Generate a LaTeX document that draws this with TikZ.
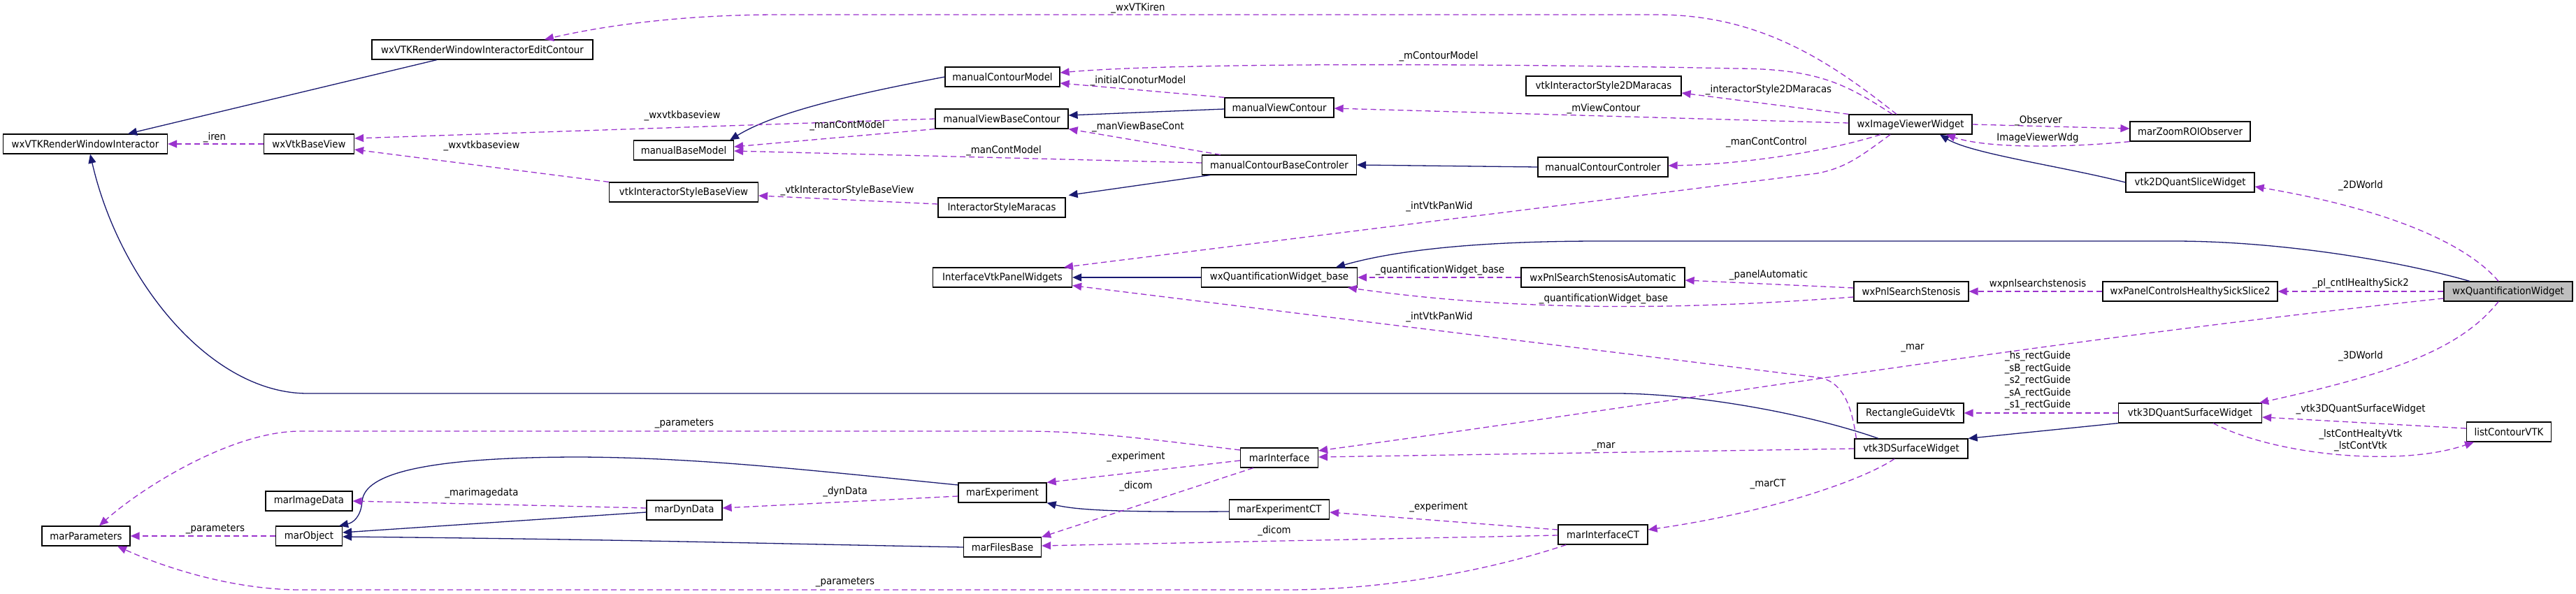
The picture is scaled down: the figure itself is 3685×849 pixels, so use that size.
\documentclass[tikz,border=0pt]{standalone}
\usepackage{fontspec}
\setmainfont{DejaVu Sans}[FakeStretch=0.92]
\usetikzlibrary{arrows.meta}
\definecolor{inhc}{HTML}{191970}
\definecolor{depc}{HTML}{9A32CD}
\definecolor{graybox}{HTML}{BFBFBF}
\begin{document}
\begin{tikzpicture}[x=1pt,y=-1pt,
  every node/.style={font=\fontsize{14.5}{17.5}\selectfont},
  cls/.style={draw=black, line width=1.2pt, fill=white, minimum height=28pt, inner xsep=2pt, inner ysep=0pt},
  lbl/.style={inner sep=0pt, align=center},
  inh/.style={draw=inhc, line width=1.3pt, -{Triangle[length=13pt,width=11pt]}},
  dep/.style={draw=depc, line width=1.3pt, dash pattern=on 8pt off 5pt, -{Triangle[length=13pt,width=11pt]}}]
\fill[white] (0,0) rectangle (3685,849);
\useasboundingbox (0,0) rectangle (3685,849);
% classes
\node[cls, minimum width=316pt] (ewc) at (690,71) {wxVTKRenderWindowInteractorEditContour};
\node[cls, minimum width=235pt] (rwi) at (122,206) {wxVTKRenderWindowInteractor};
\node[cls, minimum width=129pt] (bv) at (442,206) {wxVtkBaseView};
\node[cls, minimum width=164pt] (mcm) at (1434,110) {manualContourModel};
\node[cls, minimum width=190pt] (mvbc) at (1433,170) {manualViewBaseContour};
\node[cls, minimum width=143pt] (mbm) at (978,215) {manualBaseModel};
\node[cls, minimum width=213pt] (isbv) at (978,275) {vtkInteractorStyleBaseView};
\node[cls, minimum width=182pt] (ism) at (1433,297) {InteractorStyleMaracas};
\node[cls, minimum width=156pt] (mvc) at (1830,154) {manualViewContour};
\node[cls, minimum width=221pt] (mcbc) at (1830,236) {manualContourBaseControler};
\node[cls, minimum width=222pt] (is2d) at (2294,123) {vtkInteractorStyle2DMaracas};
\node[cls, minimum width=176pt] (ivw) at (2733,178) {wxImageViewerWidget};
\node[cls, minimum width=186pt] (mcc) at (2293,239) {manualContourControler};
\node[cls, minimum width=172pt] (zoom) at (3133,188) {marZoomROIObserver};
\node[cls, minimum width=184pt] (q2d) at (3133,261) {vtk2DQuantSliceWidget};
\node[cls, minimum width=199pt] (ivpw) at (1434,397) {InterfaceVtkPanelWidgets};
\node[cls, minimum width=223pt] (qwb) at (1830,397) {wxQuantificationWidget\_base};
\node[cls, minimum width=234pt] (pssa) at (2293,397) {wxPnlSearchStenosisAutomatic};
\node[cls, minimum width=164pt] (pss) at (2734,417) {wxPnlSearchStenosis};
\node[cls, minimum width=250pt] (pchs) at (3133,417) {wxPanelControlsHealthySickSlice2};
\node[cls, fill=graybox, minimum width=184pt] (qw) at (3588,417) {wxQuantificationWidget};
\node[cls, minimum width=152pt] (rgv) at (2733,591) {RectangleGuideVtk};
\node[cls, minimum width=205pt] (q3d) at (3133,591) {vtk3DQuantSurfaceWidget};
\node[cls, minimum width=121pt] (lcv) at (3589,618) {listContourVTK};
\node[cls, minimum width=162pt] (s3d) at (2734,642) {vtk3DSurfaceWidget};
\node[cls, minimum width=111pt] (mi) at (1830,655) {marInterface};
\node[cls, minimum width=124pt] (mid) at (442,717) {marImageData};
\node[cls, minimum width=126pt] (mp) at (123,767) {marParameters};
\node[cls, minimum width=95pt] (mo) at (442,767) {marObject};
\node[cls, minimum width=108pt] (mdd) at (979,730) {marDynData};
\node[cls, minimum width=126pt] (me) at (1434,705) {marExperiment};
\node[cls, minimum width=143pt] (mect) at (1830,729) {marExperimentCT};
\node[cls, minimum width=111pt] (mfb) at (1434,783) {marFilesBase};
\node[cls, minimum width=128pt] (mict) at (2293,765) {marInterfaceCT};
% inheritance
\draw[inh] ([xshift=-65pt]ewc.south) -- ([xshift=61pt]rwi.north);
\draw[inh] ([xshift=-47pt]s3d.north) .. controls (2580,590) and (2420,563) .. (2312,563) -- (440,563) .. controls (300,563) and (170,400) .. ([xshift=7pt]rwi.south);
\draw[inh] (mcm.west) .. controls (1220,135) and (1110,160) .. ([xshift=-6pt]mbm.north east);
\draw[inh] ([yshift=-2pt]mvc.west) -- ([yshift=5pt]mvbc.east);
\draw[inh] ([xshift=12pt]mcbc.south west) -- ([xshift=4pt,yshift=3pt]ism.north east);
\draw[inh] (mcc.west) -- (mcbc.east);
\draw[inh] (q2d.west) .. controls (2950,238) and (2820,220) .. ([xshift=42pt]ivw.south);
\draw[inh] ([xshift=-55pt]qw.north) .. controls (3420,370) and (3250,345) .. (3110,345) -- (2290,345) .. controls (2100,345) and (1990,360) .. ([xshift=81pt]qwb.north);
\draw[inh] (qwb.west) -- (ivpw.east);
\draw[inh] (q3d.south west) -- (s3d.north east);
\draw[inh] ([yshift=-3pt]mect.west) .. controls (1600,733) and (1540,730) .. (me.south east);
\draw[inh] ([yshift=11pt]me.west) .. controls (1150,672) and (1000,655) .. (830,654) .. controls (560,654) and (520,690) .. (518,718) .. controls (516,740) and (505,748) .. ([xshift=-5pt]mo.north east);
\draw[inh] ([yshift=-3pt]mdd.west) -- ([yshift=5pt]mo.east);
\draw[inh] (mfb.west) .. controls (1100,778) and (900,772) .. ([yshift=-1pt]mo.east);
% dependencies
\draw[dep] ([xshift=-20pt]ivw.north) .. controls (2620,90) and (2520,21) .. (2370,21) -- (1115,21) .. controls (960,21) and (850,40) .. ([xshift=89pt]ewc.north);
\draw[dep] ([xshift=-26pt]ivw.north) .. controls (2640,120) and (2600,98) .. (2480,98) .. controls (2200,92) and (1700,88) .. ([yshift=6pt]mcm.east);
\draw[dep] (mvc.north west) -- ([yshift=-9pt]mcm.east);
\draw[dep] (ivw.north west) -- ([yshift=-10pt]is2d.east);
\draw[dep] ([yshift=2pt]ivw.west) -- ([yshift=-1pt]mvc.east);
\draw[dep] ([xshift=-43pt]ivw.south) .. controls (2620,215) and (2500,235) .. ([yshift=2pt]mcc.east);
\draw[dep] ([xshift=-29pt]ivw.south) .. controls (2660,225) and (2640,240) .. (2600,248) -- ([xshift=88pt]ivpw.north);
\draw[dep] (ivw.east) -- ([yshift=4pt]zoom.west);
\draw[dep] (zoom.south west) .. controls (2950,212) and (2840,212) .. ([xshift=51pt]ivw.south);
\draw[dep] ([xshift=-14pt]qw.north) .. controls (3530,350) and (3420,300) .. ([yshift=-6pt]q2d.east);
\draw[dep] (qw.west) -- (pchs.east);
\draw[dep] (pchs.west) -- (pss.east);
\draw[dep] ([yshift=5pt]pss.west) -- ([yshift=-4pt]pssa.east);
\draw[dep] ([yshift=-8pt]pss.west) .. controls (2450,440) and (2200,450) .. ([xshift=98pt]qwb.south);
\draw[dep] (pssa.west) -- (qwb.east);
\draw[dep] ([xshift=3pt]s3d.north west) .. controls (2650,590) and (2640,545) .. (2600,540) -- ([yshift=3pt]ivpw.south east);
\draw[dep] ([yshift=-10pt]qw.west) .. controls (2900,490) and (2400,575) .. ([yshift=10pt]mi.east);
\draw[dep] (s3d.west) -- ([yshift=1pt]mi.east);
\draw[dep] ([xshift=-24pt]s3d.south) .. controls (2660,690) and (2520,735) .. ([yshift=7pt]mict.east);
\draw[dep] (q3d.west) -- (rgv.east);
\draw[dep] ([xshift=-14pt]qw.south) .. controls (3520,500) and (3420,535) .. ([xshift=-4pt]q3d.north east);
\draw[dep] ([yshift=5pt]lcv.west) -- ([yshift=-6pt]q3d.east);
\draw[dep] ([xshift=33pt]q3d.south) .. controls (3250,650) and (3430,670) .. ([xshift=-50pt]lcv.south);
\draw[dep] ([yshift=-4pt]mi.west) -- (me.north east);
\draw[dep] ([xshift=19pt]mi.south west) -- (mfb.north east);
\draw[dep] ([yshift=11pt]mi.west) .. controls (1640,628) and (1560,617) .. (1460,617) -- (430,617) .. controls (330,617) and (200,700) .. ([xshift=19pt]mp.north);
\draw[dep] ([yshift=-5pt]me.west) -- ([yshift=3pt]mdd.east);
\draw[dep] ([yshift=3pt]mdd.west) -- (mid.east);
\draw[dep] (mo.west) -- (mp.east);
\draw[dep] ([yshift=7pt]mict.west) -- ([yshift=-4pt]mect.east);
\draw[dep] ([yshift=-1pt]mict.west) -- ([yshift=2pt]mfb.east);
\draw[dep] ([xshift=12pt]mict.south west) .. controls (2150,810) and (2000,844) .. (1840,844) -- (430,844) .. controls (330,844) and (230,810) .. ([xshift=45pt]mp.south);
\draw[dep] (mvbc.west) -- ([yshift=8pt]bv.east);
\draw[dep] (isbv.north west) -- ([yshift=-8pt]bv.east);
\draw[dep] (bv.west) -- (rwi.east);
\draw[dep] (mvbc.south west) -- ([yshift=5pt]mbm.east);
\draw[dep] ([yshift=3pt]mcbc.west) -- ([yshift=-1pt]mbm.east);
\draw[dep] ([xshift=27pt]mcbc.north west) -- (mvbc.south east);
\draw[dep] ([yshift=5pt]ism.west) -- ([yshift=-5pt]isbv.east);
% labels
\node[lbl] (l1) at (1628,12) {\_wxVTKiren};
\node[lbl] (l2) at (2058,81) {\_mContourModel};
\node[lbl] (l3) at (1628,116) {\_initialConoturModel};
\node[lbl] (l4) at (2530,129) {\_interactorStyle2DMaracas};
\node[lbl] (l5) at (2294,156) {\_mViewContour};
\node[lbl] (l6) at (2527,204) {\_manContControl};
\node[lbl] (l7) at (2059,296) {\_intVtkPanWid};
\node[lbl] (l8) at (2916,173) {\_Observer};
\node[lbl] (l9) at (2915,197) {ImageViewerWdg};
\node[lbl] (l10) at (3377,266) {\_2DWorld};
\node[lbl] (l11) at (3377,406) {\_pl\_cntlHealthySick2};
\node[lbl] (l12) at (2915,406) {wxpnlsearchstenosis};
\node[lbl] (l13) at (2530,394) {\_panelAutomatic};
\node[lbl] (l14) at (2294,428) {\_quantificationWidget\_base};
\node[lbl] (l15) at (2060,387) {\_quantificationWidget\_base};
\node[lbl] (l16) at (2059,454) {\_intVtkPanWid};
\node[lbl] (l17) at (2736,498) {\_mar};
\node[lbl] (l18) at (2294,639) {\_mar};
\node[lbl] (l19) at (2529,693) {\_marCT};
\node[lbl] (l20) at (2915,545) {\_hs\_rectGuide\\\_sB\_rectGuide\\\_s2\_rectGuide\\\_sA\_rectGuide\\\_s1\_rectGuide};
\node[lbl] (l21) at (3377,510) {\_3DWorld};
\node[lbl] (l22) at (3377,586) {\_vtk3DQuantSurfaceWidget};
\node[lbl] (l23) at (3377,630) {\_lstContHealtyVtk\\\_lstContVtk};
\node[lbl] (l24) at (1625,654) {\_experiment};
\node[lbl] (l25) at (1625,696) {\_dicom};
\node[lbl] (l26) at (979,606) {\_parameters};
\node[lbl] (l27) at (1209,704) {\_dynData};
\node[lbl] (l28) at (689,706) {\_marimagedata};
\node[lbl] (l29) at (308,757) {\_parameters};
\node[lbl] (l30) at (2058,726) {\_experiment};
\node[lbl] (l31) at (1823,760) {\_dicom};
\node[lbl] (l32) at (1209,833) {\_parameters};
\node[lbl] (l33) at (976,166) {\_wxvtkbaseview};
\node[lbl] (l34) at (689,209) {\_wxvtkbaseview};
\node[lbl] (l35) at (307,197) {\_iren};
\node[lbl] (l36) at (1212,180) {\_manContModel};
\node[lbl] (l37) at (1436,216) {\_manContModel};
\node[lbl] (l38) at (1628,182) {\_manViewBaseCont};
\node[lbl] (l39) at (1212,273) {\_vtkInteractorStyleBaseView};
\end{tikzpicture}
\end{document}
